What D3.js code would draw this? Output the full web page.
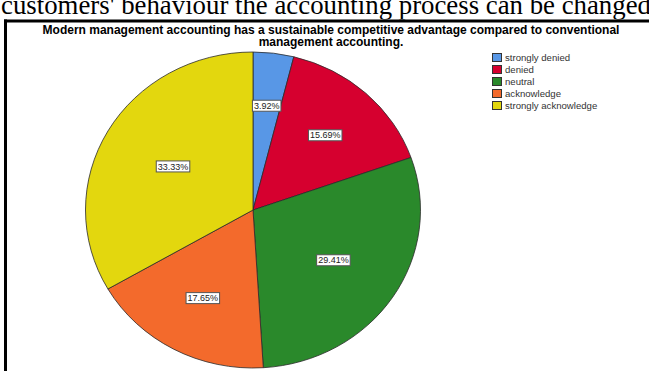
<!DOCTYPE html>
<html>
<head>
<meta charset="utf-8">
<script src="https://cdn.jsdelivr.net/npm/d3@7"></script>
<style>
  html, body { margin: 0; padding: 0; background: #fff; }
  svg { display: block; }
</style>
</head>
<body>
<svg id="chart" width="649" height="371"></svg>
<script>
// Response categories and their share of answers (%)
const categories = ["strongly denied", "denied", "neutral", "acknowledge", "strongly acknowledge"];
const percents = [3.92, 15.69, 29.41, 17.65, 33.33];
const colors = ["#5897e6", "#d6002f", "#2a892b", "#f36a2c", "#e3d70e"];

const titleLines = [
  "Modern management accounting has a sustainable competitive advantage compared to conventional",
  "management accounting."
];
const headerText = "customers' behaviour the accounting process can be changed";

const svg = d3.select("#chart");
const W = 649, H = 371;

// surrounding document text and frame
svg.append("text")
  .attr("x", 1).attr("y", 13.5)
  .attr("font-family", "Liberation Serif, Times New Roman, serif")
  .attr("font-size", 26.8)
  .attr("fill", "#000")
  .text(headerText);

svg.append("rect")
  .attr("x", 4).attr("y", 19.5)
  .attr("width", W).attr("height", H)
  .attr("fill", "#fff");
svg.append("line")
  .attr("x1", 4).attr("x2", W).attr("y1", 21).attr("y2", 21)
  .attr("stroke", "#000").attr("stroke-width", 3);
svg.append("line")
  .attr("x1", 5.5).attr("x2", 5.5).attr("y1", 19.5).attr("y2", H)
  .attr("stroke", "#000").attr("stroke-width", 3);

// chart title
svg.append("g").selectAll("text").data(titleLines).join("text")
  .attr("x", 331)
  .attr("y", (d, i) => 34 + i * 12)
  .attr("text-anchor", "middle")
  .attr("font-family", "Liberation Sans, Arial, sans-serif")
  .attr("font-weight", "bold")
  .attr("font-size", 12)
  .attr("fill", "#000")
  .text(d => d);

// pie geometry (drawn slightly wider than tall)
const cx = 253, cy = 210, rx = 167.5, ry = 158;
const pie = d3.pie().sort(null).value(d => d);
const arcs = pie(percents);
const arc = d3.arc().innerRadius(0).outerRadius(ry);

const pieG = svg.append("g")
  .attr("transform", `translate(${cx},${cy}) scale(${rx / ry},1)`);

pieG.selectAll("path").data(arcs).join("path")
  .attr("d", arc)
  .attr("fill", (d, i) => colors[i])
  .attr("stroke", "#2b2b2b")
  .attr("stroke-width", 0.8)
  .attr("vector-effect", "non-scaling-stroke");

// value labels at each slice's centroid
const fmt = v => v.toFixed(2) + "%";
const labelG = svg.append("g");
arcs.forEach((d, i) => {
  const a = d.endAngle - d.startAngle;
  const f = 4 * Math.sin(a / 2) / (3 * a);
  const mid = (d.startAngle + d.endAngle) / 2;
  const x = cx + rx * f * Math.sin(mid);
  const y = cy - ry * f * Math.cos(mid);
  const g = labelG.append("g").attr("transform", `translate(${x},${y})`);
  const t = g.append("text")
    .attr("text-anchor", "middle")
    .attr("dy", "0.35em")
    .attr("font-family", "Liberation Sans, Arial, sans-serif")
    .attr("font-size", 9)
    .attr("fill", "#222")
    .text(fmt(d.data));
  const bb = t.node().getBBox();
  g.insert("rect", "text")
    .attr("x", bb.x - 1.5).attr("y", -5.5)
    .attr("width", bb.width + 3).attr("height", 11)
    .attr("fill", "#fff")
    .attr("stroke", "#555")
    .attr("stroke-width", 1);
});

// legend
const legend = svg.append("g").attr("transform", "translate(492,53)");
const rows = legend.selectAll("g").data(categories).join("g")
  .attr("transform", (d, i) => `translate(0,${i * 12})`);
rows.append("rect")
  .attr("x", 0.5).attr("y", 0.5)
  .attr("width", 9).attr("height", 8)
  .attr("fill", (d, i) => colors[i])
  .attr("stroke", "#333").attr("stroke-width", 1);
rows.append("text")
  .attr("x", 13).attr("y", 8)
  .attr("font-family", "Liberation Sans, Arial, sans-serif")
  .attr("font-size", 9.6)
  .attr("fill", "#333")
  .text(d => d);
</script>
</body>
</html>
